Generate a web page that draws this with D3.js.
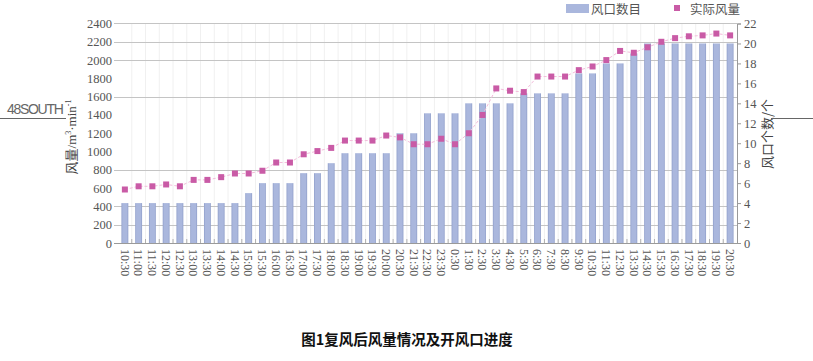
<!DOCTYPE html>
<html><head><meta charset="utf-8">
<script src="https://cdn.jsdelivr.net/npm/d3@7"></script>
<style>
html,body{margin:0;padding:0;background:#fff;}
svg{display:block;}
</style></head>
<body>
<svg id="chart" width="813" height="361"></svg>
<script>
const categories = ["10:30","11:00","11:30","12:00","12:30","13:00","13:30","14:00","14:30","15:00","15:30","16:00","16:30","17:00","17:30","18:00","18:30","19:00","19:30","20:00","20:30","21:30","22:30","23:30","0:30","1:30","2:30","3:30","4:30","5:30","6:30","7:30","8:30","9:30","10:30","11:30","12:30","13:30","14:30","15:30","16:30","17:30","18:30","19:30","20:30"];
const ventCount = [4,4,4,4,4,4,4,4,4,5,6,6,6,7,7,8,9,9,9,9,11,11,13,13,13,14,14,14,14,15,15,15,15,17,17,18,18,19,20,20,20,20,20,20,20];
const airVolume = [585,620,620,640,620,690,690,720,760,760,790,880,880,970,1005,1040,1120,1120,1120,1175,1155,1080,1080,1140,1080,1200,1400,1690,1665,1650,1820,1820,1820,1890,1930,2000,2100,2080,2140,2200,2240,2260,2270,2290,2270];
const leftTicks = [0,200,400,600,800,1000,1200,1400,1600,1800,2000,2200,2400];
const rightTicks = [0,2,4,6,8,10,12,14,16,18,20,22];
const gridValues = [200,400,800,1600,2000,2200];
const seriesNames = ["风口数目","实际风量"];
const caption = "图1复风后风量情况及开风口进度";

const svg = d3.select("#chart");
const L = 118, R = 737, T = 23.5, B = 243;
const x = d3.scaleBand().domain(d3.range(categories.length)).range([L, R]).paddingInner(0.5).paddingOuter(0.25);
const yL = d3.scaleLinear().domain([0,2400]).range([B,T]);
const yR = d3.scaleLinear().domain([0,22]).range([B,T]);
const step = x.step();

const defs = svg.append("defs");
const grad = defs.append("linearGradient").attr("id","barGrad").attr("x1","0").attr("x2","1").attr("y1","0").attr("y2","0");
grad.append("stop").attr("offset","0").attr("stop-color","#8e9dc9");
grad.append("stop").attr("offset","0.2").attr("stop-color","#aab7dd");
grad.append("stop").attr("offset","0.8").attr("stop-color","#aab7dd");
grad.append("stop").attr("offset","1").attr("stop-color","#8e9dc9");

// vertical faint separators
svg.append("g").selectAll("line").data(d3.range(1, categories.length)).join("line")
  .attr("x1", i => x(i) - step*0.25).attr("x2", i => x(i) - step*0.25)
  .attr("y1", T).attr("y2", B)
  .attr("stroke", "#f0f0f0").attr("stroke-width", 1);

// horizontal grid
svg.append("g").selectAll("line").data(gridValues).join("line")
  .attr("x1", 114).attr("x2", R)
  .attr("y1", d => Math.round(yL(d))+0.5).attr("y2", d => Math.round(yL(d))+0.5)
  .attr("stroke", "#c4c4c4").attr("stroke-width", 1);

// top border
svg.append("line").attr("x1", 114).attr("x2", R).attr("y1", T).attr("y2", T).attr("stroke","#c4c4c4");

// bars
svg.append("g").selectAll("rect").data(ventCount).join("rect")
  .attr("x", (d,i) => x(i)).attr("width", x.bandwidth())
  .attr("y", d => yR(d)).attr("height", d => B - yR(d))
  .attr("fill", "url(#barGrad)");

// baseline
svg.append("line").attr("x1", 114).attr("x2", R).attr("y1", B+0.5).attr("y2", B+0.5).attr("stroke","#9a9a9a");
// small bottom ticks
svg.append("g").selectAll("line").data(d3.range(1, categories.length)).join("line")
  .attr("x1", i => x(i) - step*0.25).attr("x2", i => x(i) - step*0.25)
  .attr("y1", B-4).attr("y2", B)
  .attr("stroke", "#b0b0b0");

// line + markers
const line = d3.line().x((d,i) => x(i) + x.bandwidth()/2).y(d => yL(d));
svg.append("path").datum(airVolume).attr("d", line)
  .attr("fill","none").attr("stroke","#f3bcdb").attr("stroke-width",1).attr("stroke-dasharray","3,2");
svg.append("g").selectAll("rect").data(airVolume).join("rect")
  .attr("x", (d,i) => x(i) + x.bandwidth()/2 - 3).attr("y", d => yL(d) - 3)
  .attr("width", 6).attr("height", 6).attr("fill", "#c95ba6");

// left axis
const axL = svg.append("g").attr("transform", `translate(${L},0)`)
  .call(d3.axisLeft(yL).tickValues(leftTicks).tickSize(0).tickPadding(6).tickFormat(d3.format("d")));
axL.select(".domain").remove();
axL.selectAll("text").attr("font-family","'Liberation Serif', serif").attr("font-size", 12.5).attr("fill","#555");

// right axis
const axR = svg.append("g").attr("transform", `translate(${R},0)`)
  .call(d3.axisRight(yR).tickValues(rightTicks).tickSize(4).tickPadding(3));
axR.select(".domain").attr("stroke","#999");
axR.selectAll("line").attr("stroke","#999");
axR.selectAll("text").attr("font-family","'Liberation Serif', serif").attr("font-size", 12.5).attr("fill","#555");

// x labels
svg.append("g").selectAll("text").data(categories).join("text")
  .attr("transform", (d,i) => `translate(${x(i) + x.bandwidth()/2},249) rotate(90)`)
  .attr("dy","0.35em")
  .attr("font-family","'Liberation Serif', serif").attr("font-size", 12).attr("fill","#555")
  .text(d => d);

// axis titles
const tl = svg.append("text").attr("transform","translate(76,137) rotate(-90)")
  .attr("text-anchor","middle").attr("font-size",13).attr("fill","#444");
tl.append("tspan").attr("font-family","'Noto Sans CJK SC', sans-serif").text("风量");
tl.append("tspan").attr("font-family","'Liberation Serif', serif").text("/m");
tl.append("tspan").attr("font-family","'Liberation Serif', serif").attr("font-size",8).attr("dy",-5).text("3");
tl.append("tspan").attr("font-family","'Liberation Serif', serif").attr("dy",5).text("·min");
tl.append("tspan").attr("font-family","'Liberation Serif', serif").attr("font-size",8).attr("dy",-5).text("-1");

svg.append("text").attr("transform","translate(772,134) rotate(-90)")
  .attr("text-anchor","middle").attr("font-family","'Noto Sans CJK SC', sans-serif").attr("font-size",13).attr("fill","#444")
  .text("风口个数/个");

// legend
svg.append("rect").attr("x",566).attr("y",4).attr("width",23).attr("height",9).attr("fill","#aab7dd");
svg.append("text").attr("x",591).attr("y",14).attr("font-family","'Noto Sans CJK SC', sans-serif").attr("font-size",12.5).attr("fill","#555").text(seriesNames[0]);
svg.append("rect").attr("x",674).attr("y",5).attr("width",6).attr("height",6).attr("fill","#c95ba6");
svg.append("text").attr("x",690).attr("y",14).attr("font-family","'Noto Sans CJK SC', sans-serif").attr("font-size",12.5).attr("fill","#555").text(seriesNames[1]);

// page artefacts
svg.append("text").attr("x",7).attr("y",114).attr("font-family","'Liberation Sans', sans-serif").attr("font-size",14).attr("letter-spacing",-1.3).attr("fill","#666").text("48SOUTH");
svg.append("line").attr("x1",0).attr("x2",66).attr("y1",118.5).attr("y2",118.5).attr("stroke","#666");
svg.append("line").attr("x1",771).attr("x2",813).attr("y1",118.5).attr("y2",118.5).attr("stroke","#666");

// caption
svg.append("text").attr("x",407).attr("y",345).attr("text-anchor","middle")
  .attr("font-family","'Noto Sans CJK SC', sans-serif").attr("font-weight","bold").attr("font-size",14.5).attr("fill","#111")
  .text(caption);
</script>
</body></html>
